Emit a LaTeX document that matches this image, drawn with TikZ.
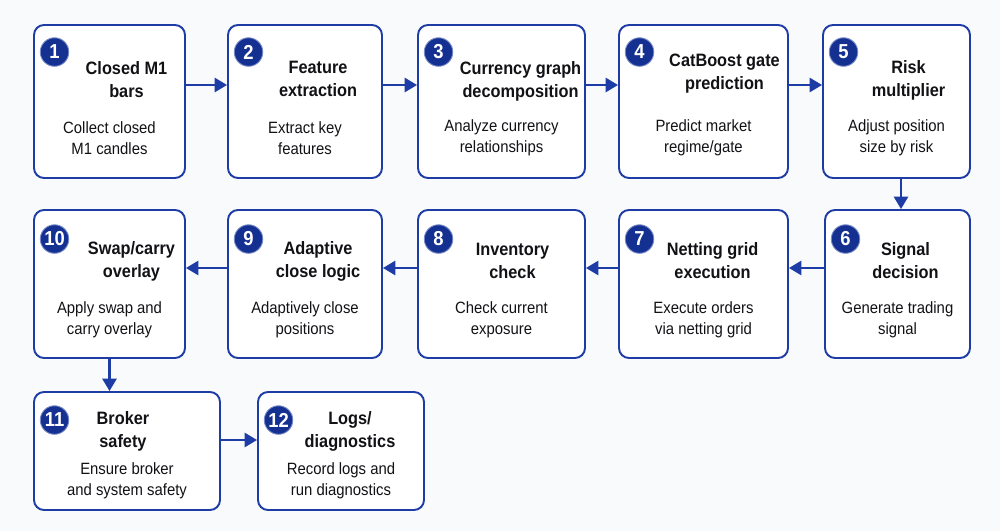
\documentclass[tikz,border=0pt]{standalone}
\usepackage{fontspec}
\setmainfont{Liberation Sans}[FakeStretch=0.91]
\usepackage{tikz}
\usetikzlibrary{arrows.meta,positioning}
\usepackage{xcolor}
\definecolor{pipeblue}{RGB}{30,60,165}
\definecolor{pipedark}{RGB}{20,48,145}
\definecolor{pipebg}{RGB}{249,250,252}
\definecolor{pipetext}{RGB}{18,18,22}
\tikzstyle{arrow} = [line width=1.3pt,-{Triangle[length=7pt,width=8pt]},color=pipeblue]
\tikzstyle{stage} = [rectangle, rounded corners=0.2cm, draw=pipeblue, fill=white, line width=1.1pt]
\tikzstyle{badge} = [circle, fill=pipedark, draw=pipeblue!60, line width=0.5pt, text=white, font=\bfseries\fontsize{11.5}{11.5}\selectfont, minimum size=0.57cm, inner sep=0pt]
\tikzstyle{stagetitle} = [font=\bfseries\fontsize{10.2}{13.1}\selectfont, text=pipetext, align=center]
\tikzstyle{stagedesc} = [font=\fontsize{9.3}{12}\selectfont, text=pipetext, align=center]

\begin{document}
\begin{tikzpicture}
    % Canvas
    \fill[pipebg] (0,0) rectangle (20,-10.62);
    \useasboundingbox (0,0) rectangle (20,-10.62);

    % Row 1 - left to right
    \node[stage, minimum width=3.02cm, minimum height=3.06cm] (b1) at (2.19,-2.03) {};
    \node[stage, minimum width=3.08cm, minimum height=3.06cm] (b2) at (6.10,-2.03) {};
    \node[stage, minimum width=3.34cm, minimum height=3.06cm] (b3) at (10.03,-2.03) {};
    \node[stage, minimum width=3.38cm, minimum height=3.06cm] (b4) at (14.07,-2.03) {};
    \node[stage, minimum width=2.94cm, minimum height=3.06cm] (b5) at (17.93,-2.03) {};

    % Row 2 - right to left
    \node[stage, minimum width=2.90cm, minimum height=2.96cm] (b6) at (17.95,-5.68) {};
    \node[stage, minimum width=3.38cm, minimum height=2.96cm] (b7) at (14.07,-5.68) {};
    \node[stage, minimum width=3.34cm, minimum height=2.96cm] (b8) at (10.03,-5.68) {};
    \node[stage, minimum width=3.08cm, minimum height=2.96cm] (b9) at (6.10,-5.68) {};
    \node[stage, minimum width=3.02cm, minimum height=2.96cm] (b10) at (2.19,-5.68) {};

    % Row 3
    \node[stage, minimum width=3.72cm, minimum height=2.36cm] (b11) at (2.54,-9.02) {};
    \node[stage, minimum width=3.32cm, minimum height=2.36cm] (b12) at (6.82,-9.02) {};

    % Badges
    \node[badge] (n1) at ([xshift=0.43cm,yshift=-0.56cm]b1.north west) {1};
    \node[badge] (n2) at ([xshift=0.43cm,yshift=-0.56cm]b2.north west) {2};
    \node[badge] (n3) at ([xshift=0.43cm,yshift=-0.56cm]b3.north west) {3};
    \node[badge] (n4) at ([xshift=0.43cm,yshift=-0.56cm]b4.north west) {4};
    \node[badge] (n5) at ([xshift=0.43cm,yshift=-0.56cm]b5.north west) {5};
    \node[badge] (n6) at ([xshift=0.43cm,yshift=-0.6cm]b6.north west) {6};
    \node[badge] (n7) at ([xshift=0.43cm,yshift=-0.6cm]b7.north west) {7};
    \node[badge] (n8) at ([xshift=0.43cm,yshift=-0.6cm]b8.north west) {8};
    \node[badge] (n9) at ([xshift=0.43cm,yshift=-0.6cm]b9.north west) {9};
    \node[badge] (n10) at ([xshift=0.43cm,yshift=-0.6cm]b10.north west) {10};
    \node[badge] (n11) at ([xshift=0.43cm,yshift=-0.58cm]b11.north west) {11};
    \node[badge] (n12) at ([xshift=0.43cm,yshift=-0.58cm]b12.north west) {12};

    % Titles
    \node[stagetitle] (t1) at ([xshift=0.34cm,yshift=-1.12cm]b1.north) {Closed M1\\bars};
    \node[stagetitle] (t2) at ([xshift=0.26cm,yshift=-1.10cm]b2.north) {Feature\\extraction};
    \node[stagetitle] (t3) at ([xshift=0.38cm,yshift=-1.14cm]b3.north) {Currency graph\\decomposition};
    \node[stagetitle] (t4) at ([xshift=0.42cm,yshift=-0.99cm]b4.north) {CatBoost gate\\prediction};
    \node[stagetitle] (t5) at ([xshift=0.24cm,yshift=-1.12cm]b5.north) {Risk\\multiplier};
    \node[stagetitle] (t6) at ([xshift=0.16cm,yshift=-1.04cm]b6.north) {Signal\\decision};
    \node[stagetitle] (t7) at ([xshift=0.18cm,yshift=-1.04cm]b7.north) {Netting grid\\execution};
    \node[stagetitle] (t8) at ([xshift=0.22cm,yshift=-1.04cm]b8.north) {Inventory\\check};
    \node[stagetitle] (t9) at ([xshift=0.26cm,yshift=-1.04cm]b9.north) {Adaptive\\close logic};
    \node[stagetitle] (t10) at ([xshift=0.44cm,yshift=-1.04cm]b10.north) {Swap/carry\\overlay};
    \node[stagetitle] (t11) at ([xshift=-0.08cm,yshift=-0.80cm]b11.north) {Broker\\safety};
    \node[stagetitle] (t12) at ([xshift=0.18cm,yshift=-0.80cm]b12.north) {Logs/\\diagnostics};

    % Descriptions
    \node[stagedesc] (d1) at ([yshift=-2.28cm]b1.north) {Collect closed\\M1 candles};
    \node[stagedesc] (d2) at ([yshift=-2.28cm]b2.north) {Extract key\\features};
    \node[stagedesc] (d3) at ([yshift=-2.28cm]b3.north) {Analyze currency\\relationships};
    \node[stagedesc] (d4) at ([yshift=-2.28cm]b4.north) {Predict market\\regime/gate};
    \node[stagedesc] (d5) at ([yshift=-2.28cm]b5.north) {Adjust position\\size by risk};
    \node[stagedesc] (d6) at ([yshift=-2.22cm]b6.north) {Generate trading\\signal};
    \node[stagedesc] (d7) at ([yshift=-2.22cm]b7.north) {Execute orders\\via netting grid};
    \node[stagedesc] (d8) at ([yshift=-2.22cm]b8.north) {Check current\\exposure};
    \node[stagedesc] (d9) at ([yshift=-2.22cm]b9.north) {Adaptively close\\positions};
    \node[stagedesc] (d10) at ([yshift=-2.22cm]b10.north) {Apply swap and\\carry overlay};
    \node[stagedesc] (d11) at ([yshift=-1.79cm]b11.north) {Ensure broker\\and system safety};
    \node[stagedesc] (d12) at ([yshift=-1.79cm]b12.north) {Record logs and\\run diagnostics};

    % Connections
    \draw[arrow] ([yshift=0.33cm]b1.east) -- ([yshift=0.33cm]b2.west);
    \draw[arrow] ([yshift=0.33cm]b2.east) -- ([yshift=0.33cm]b3.west);
    \draw[arrow] ([yshift=0.33cm]b3.east) -- ([yshift=0.33cm]b4.west);
    \draw[arrow] ([yshift=0.33cm]b4.east) -- ([yshift=0.33cm]b5.west);
    \draw[arrow] ([xshift=0.09cm]b5.south) -- ([xshift=0.09cm]b5.south |- b6.north);
    \draw[arrow] ([yshift=0.32cm]b6.west) -- ([yshift=0.32cm]b7.east);
    \draw[arrow] ([yshift=0.32cm]b7.west) -- ([yshift=0.32cm]b8.east);
    \draw[arrow] ([yshift=0.32cm]b8.west) -- ([yshift=0.32cm]b9.east);
    \draw[arrow] ([yshift=0.32cm]b9.west) -- ([yshift=0.32cm]b10.east);
    \draw[arrow] (b10.south) -- (b10.south |- b11.north);
    \draw[arrow] ([yshift=0.22cm]b11.east) -- ([yshift=0.22cm]b12.west);
\end{tikzpicture}
\end{document}
